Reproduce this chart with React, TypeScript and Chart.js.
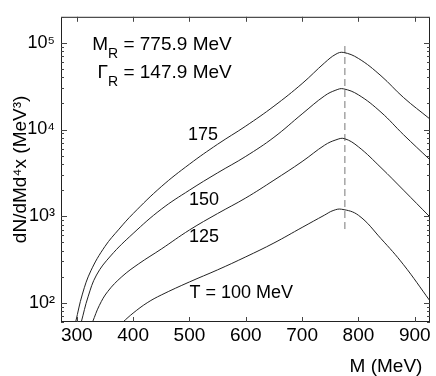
import React, { useEffect, useRef } from 'react';
import { Chart, registerables } from 'chart.js';

Chart.register(...registerables);

// ---- data ----
const xTicks = [300, 400, 500, 600, 700, 800, 900];
const yTicks = [100, 1000, 10000, 100000];
const yTickLabels = ['10²', '10³', '10⁴', '10⁵'];

const mass175 = [298, 310, 325, 350, 375, 400, 450, 500, 550, 600, 650, 700, 740, 760, 773, 800, 840, 880, 927];
const rate175 = [60, 126, 234, 447, 708, 1070, 2190, 3980, 6760, 10960, 18600, 33900, 58900, 74100, 77600, 66100, 41700, 23400, 13200];

const mass150 = [308, 320, 335, 360, 400, 450, 500, 550, 600, 650, 700, 740, 760, 773, 800, 840, 880, 927];
const rate150 = [60, 117, 209, 347, 631, 1202, 1995, 3162, 4898, 8128, 15136, 24500, 28500, 29512, 25119, 15849, 8710, 4467];

const mass125 = [328, 340, 355, 380, 410, 450, 500, 550, 600, 650, 700, 740, 760, 775, 800, 840, 880, 927];
const rate125 = [60, 93, 135, 200, 282, 417, 692, 1072, 1622, 2600, 4266, 6600, 7590, 7852, 6310, 3631, 1995, 977];

const mass100 = [382, 400, 425, 450, 500, 550, 600, 650, 700, 740, 755, 770, 800, 840, 880, 927];
const rate100 = [60, 76, 100, 123, 174, 240, 339, 490, 741, 1030, 1160, 1202, 1023, 550, 275, 105];

const resonanceMass = 775.9;
const resonanceWidth = 147.9;
const markerRange = [710, 100000];

const curveLabels = ['175', '150', '125', 'T = 100 MeV'];
const curveLabelMass = [524, 526, 526, 500];
const curveLabelRate = [8600, 1523, 571, 130];
const curveLabelAlign: CanvasTextAlign[] = ['center', 'center', 'center', 'left'];

const FONT = '"Liberation Sans", Arial, Helvetica, sans-serif';

const toPts = (xs: number[], ys: number[]) => xs.map((x, i) => ({ x, y: ys[i] }));

const decorPlugin = {
  id: 'decor',
  afterDraw(chart: any) {
    const { ctx, chartArea } = chart;
    const xs = chart.scales.x;
    const ys = chart.scales.y;
    const { left, right, top, bottom } = chartArea;
    ctx.save();
    // frame
    ctx.strokeStyle = '#222';
    ctx.lineWidth = 1;
    ctx.strokeRect(left + 0.5, top + 0.5, right - left - 1, bottom - top - 1);
    // x ticks inward
    ctx.strokeStyle = '#444';
    ctx.beginPath();
    for (const v of xTicks) {
      const px = Math.round(xs.getPixelForValue(v)) + 0.5;
      ctx.moveTo(px, bottom);
      ctx.lineTo(px, bottom - 5);
      ctx.moveTo(px, top);
      ctx.lineTo(px, top + 5);
    }
    // y ticks (major and minor) inward
    const dMin = Math.floor(Math.log10(ys.min));
    const dMax = Math.ceil(Math.log10(ys.max));
    for (let d = dMin; d <= dMax; d++) {
      for (let k = 1; k <= 9; k++) {
        const v = k * Math.pow(10, d);
        if (v < ys.min || v > ys.max) continue;
        const py = Math.round(ys.getPixelForValue(v)) + 0.5;
        const len = k === 1 ? 6 : 3;
        ctx.moveTo(left, py);
        ctx.lineTo(left + len, py);
        ctx.moveTo(right, py);
        ctx.lineTo(right - len, py);
      }
    }
    ctx.stroke();

    // curve labels
    ctx.fillStyle = '#000';
    ctx.textBaseline = 'middle';
    ctx.font = `18px ${FONT}`;
    curveLabels.forEach((t, i) => {
      ctx.textAlign = curveLabelAlign[i];
      ctx.fillText(t, xs.getPixelForValue(curveLabelMass[i]), ys.getPixelForValue(curveLabelRate[i]));
    });

    // resonance parameters
    const rightX = xs.getPixelForValue(575);
    const lines = [
      { main: 'M', rest: ` = ${resonanceMass.toFixed(1)} MeV`, y: ys.getPixelForValue(83000) },
      { main: 'Γ', rest: ` = ${resonanceWidth.toFixed(1)} MeV`, y: ys.getPixelForValue(39700) },
    ];
    ctx.textBaseline = 'alphabetic';
    ctx.textAlign = 'left';
    for (const l of lines) {
      ctx.font = `19px ${FONT}`;
      const w1 = ctx.measureText(l.main).width;
      const w3 = ctx.measureText(l.rest).width;
      ctx.font = `14px ${FONT}`;
      const w2 = ctx.measureText('R').width;
      const x0 = rightX - (w1 + w2 + w3);
      ctx.font = `19px ${FONT}`;
      ctx.fillText(l.main, x0, l.y);
      ctx.font = `14px ${FONT}`;
      ctx.fillText('R', x0 + w1, l.y + 8);
      ctx.font = `19px ${FONT}`;
      ctx.fillText(l.rest, x0 + w1 + w2, l.y);
    }
    ctx.restore();
  },
};

export default function App() {
  const ref = useRef<HTMLCanvasElement | null>(null);
  useEffect(() => {
    if (!ref.current) return;
    const lineStyle = {
      borderColor: '#222',
      borderWidth: 1,
      pointRadius: 0,
      fill: false,
      tension: 0.4,
    };
    const chart = new Chart(ref.current, {
      type: 'line',
      data: {
        datasets: [
          { label: '175', data: toPts(mass175, rate175), ...lineStyle },
          { label: '150', data: toPts(mass150, rate150), ...lineStyle },
          { label: '125', data: toPts(mass125, rate125), ...lineStyle },
          { label: '100', data: toPts(mass100, rate100), ...lineStyle },
          {
            label: 'M_R',
            data: markerRange.map((v) => ({ x: resonanceMass, y: v })),
            borderColor: '#777',
            borderWidth: 1,
            borderDash: [7, 4],
            pointRadius: 0,
            fill: false,
          },
        ],
      },
      options: {
        responsive: false,
        animation: false,
        events: [],
        layout: { padding: { left: 0, right: 6, top: 4, bottom: 0 } },
        plugins: { legend: { display: false }, tooltip: { enabled: false } },
        scales: {
          x: {
            type: 'linear',
            min: 272,
            max: 927,
            afterFit: (s: any) => { s.height = 54; },
            afterBuildTicks: (s: any) => { s.ticks = xTicks.map((v) => ({ value: v })); },
            grid: { display: false, drawTicks: false },
            border: { display: false },
            ticks: { color: '#000', padding: 2, maxRotation: 0, font: { family: FONT, size: 19 } },
            title: {
              display: true,
              text: 'M (MeV)\u2009\u2009',
              align: 'end',
              color: '#000',
              padding: 0,
              font: { family: FONT, size: 19, lineHeight: 1 },
            },
          },
          y: {
            type: 'logarithmic',
            min: 60,
            max: 200000,
            afterFit: (s: any) => { s.width = 61; },
            afterBuildTicks: (s: any) => { s.ticks = yTicks.map((v) => ({ value: v })); },
            grid: { display: false, drawTicks: false },
            border: { display: false },
            ticks: {
              color: '#000',
              padding: 6,
              font: { family: FONT, size: 18 },
              callback: (v: any) => {
                const i = yTicks.indexOf(Number(v));
                return i >= 0 ? yTickLabels[i] : '';
              },
            },
            title: {
              display: true,
              text: 'dN/dMd⁴x (MeV³)',
              color: '#000',
              padding: { top: 11, bottom: 0 },
              font: { family: FONT, size: 19, lineHeight: 1 },
            },
          },
        },
      },
      plugins: [decorPlugin],
    });
    return () => chart.destroy();
  }, []);
  return (
    <div style={{ position: 'absolute', left: 0, top: 0, width: 436, height: 376 }}>
      <canvas ref={ref} width={436} height={376} style={{ display: 'block' }} />
    </div>
  );
}
